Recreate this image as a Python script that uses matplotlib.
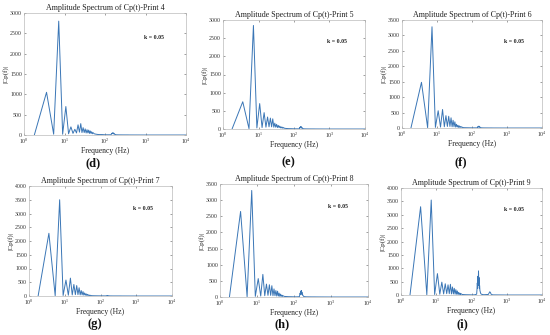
import matplotlib
matplotlib.use("Agg")
import matplotlib.pyplot as plt

plt.rcParams['font.family'] = ['Liberation Serif', 'DejaVu Serif']
plt.rcParams['mathtext.fontset'] = 'stix'

# Shared low-frequency bins (Hz)
freq_low = [1.8, 3.6, 5.4, 7.2, 9.0, 10.8, 12.6, 14.4, 16.2, 18.0, 19.8, 21.6,
            23.4, 25.2, 27.0, 28.8, 30.6, 32.4, 34.2, 36.0, 37.8, 39.6, 41.4,
            43.2, 45.0, 46.8, 48.6, 50.4, 54.0, 60.0, 70.0, 85.0, 100.0, 120.0]

amp_d = [0, 1050, 20, 2800, 20, 700, 30, 200, 40, 140, 50, 250, 70, 280, 60,
         180, 60, 150, 50, 130, 50, 120, 40, 100, 40, 80, 30, 60, 30, 20, 10, 10, 5, 5]
amp_e = [0, 750, 10, 2850, 30, 700, 40, 450, 50, 330, 60, 300, 60, 280, 50,
         160, 50, 130, 40, 100, 40, 80, 30, 60, 30, 50, 20, 40, 20, 15, 10, 8, 5, 5]
amp_f = [0, 1480, 10, 3280, 20, 560, 30, 600, 40, 400, 50, 380, 50, 330, 40,
         250, 40, 200, 30, 120, 30, 90, 20, 70, 20, 50, 20, 40, 15, 10, 8, 6, 5, 5]
amp_g = [0, 2280, 10, 3500, 20, 580, 30, 650, 40, 420, 50, 380, 50, 300, 40,
         200, 40, 160, 30, 110, 30, 80, 20, 60, 20, 40, 15, 30, 15, 10, 8, 6, 5, 5]
amp_h = [0, 2650, 10, 3300, 20, 570, 30, 700, 40, 400, 50, 380, 50, 350, 40,
         250, 40, 200, 30, 180, 30, 120, 20, 90, 20, 60, 20, 40, 20, 15, 10, 8, 5, 5]
amp_i = [0, 3300, 10, 3550, 20, 800, 30, 480, 40, 420, 50, 380, 50, 400, 40,
         300, 40, 250, 30, 200, 30, 150, 20, 100, 20, 70, 20, 50, 20, 15, 10, 8, 5, 5]

# High-frequency tails (Hz)
freq_tail = [140, 143, 146, 149, 152, 155, 158, 161, 164, 167, 170, 173, 177, 182,
             190, 220, 300, 330, 345, 360, 400, 1000, 10000]
tail_d = [5, 20, 40, 30, 50, 35, 55, 30, 45, 25, 30, 20, 15, 8, 5, 3, 2, 2, 2, 2, 1, 0, 0]
tail_e = [5, 20, 45, 30, 60, 35, 65, 30, 50, 25, 30, 20, 15, 8, 5, 3, 2, 2, 2, 2, 1, 0, 0]
tail_f = [5, 20, 40, 30, 55, 35, 60, 30, 45, 25, 25, 20, 15, 8, 5, 3, 2, 2, 2, 2, 1, 0, 0]
tail_g = [3, 8, 12, 10, 15, 10, 18, 10, 12, 8, 8, 6, 5, 4, 3, 2, 2, 2, 2, 2, 1, 0, 0]
tail_h = [10, 60, 120, 80, 180, 100, 200, 90, 150, 70, 80, 50, 40, 20, 10, 5, 3, 3, 3, 3, 2, 0, 0]
tail_i = [30, 200, 450, 250, 700, 350, 900, 400, 650, 250, 350, 180, 120, 60, 30, 10, 20, 120, 90, 30, 5, 0, 0]

titles = ["Amplitude Spectrum of Cp(t)-Print 4", "Amplitude Spectrum of Cp(t)-Print 5",
          "Amplitude Spectrum of Cp(t)-Print 6", "Amplitude Spectrum of Cp(t)-Print 7",
          "Amplitude Spectrum of Cp(t)-Print 8", "Amplitude Spectrum of Cp(t)-Print 9"]
panel_labels = ["(d)", "(e)", "(f)", "(g)", "(h)", "(i)"]
ymax = [3000, 3000, 3500, 4000, 3500, 4000]
amps = [amp_d, amp_e, amp_f, amp_g, amp_h, amp_i]
tails = [tail_d, tail_e, tail_f, tail_g, tail_h, tail_i]

positions = [
    [24, 186, 13, 135],
    [223, 365, 20, 129],
    [402, 542, 20, 128],
    [29, 172, 186, 296],
    [220, 368, 184, 297],
    [401, 542, 188, 295],
]
label_x = [93, 288, 461, 95, 282, 462]
label_y = [163, 162, 162, 324, 324, 324]

W, H = 550, 335
fig = plt.figure(figsize=(5.5, 3.35), dpi=100)
line_color = '#3a76b6'

for k in range(6):
    x0, x1, y0, y1 = positions[k]
    ax = fig.add_axes([x0 / W, 1 - y1 / H, (x1 - x0) / W, (y1 - y0) / H])
    ax.plot(freq_low + freq_tail, amps[k] + tails[k], color=line_color, lw=0.7)
    ax.set_xscale('log')
    ax.set_xlim(1, 1e4)
    ax.set_ylim(0, ymax[k])
    ax.set_yticks(range(0, ymax[k] + 1, 500))
    ax.set_xticks([1, 10, 100, 1000, 10000])
    ax.minorticks_off()
    ax.tick_params(direction='in', length=1.5, width=0.4, labelsize=4.2,
                   top=True, right=True, pad=1.5, colors='#555555', labelcolor='#333333')
    for s in ax.spines.values():
        s.set_color('#bbbbbb')
        s.set_linewidth(0.5)
    ax.set_title(titles[k], fontsize=5.8, pad=2.5, color='#222222')
    ax.set_xlabel("Frequency (Hz)", fontsize=5.5, labelpad=0.5, color='#222222')
    ax.set_ylabel("|Cp(f)|", fontsize=5.2, labelpad=1, color='#222222')
    ax.text(0.8, 0.8, "k = 0.05", transform=ax.transAxes, fontsize=4.2,
            fontweight='bold', ha='center', va='center', color='#222222')
    fig.text(label_x[k] / W, 1 - label_y[k] / H, panel_labels[k], fontsize=9,
             fontweight='bold', ha='center', va='center', color='#111111')

fig.savefig("out.png", dpi=100, facecolor='white')
